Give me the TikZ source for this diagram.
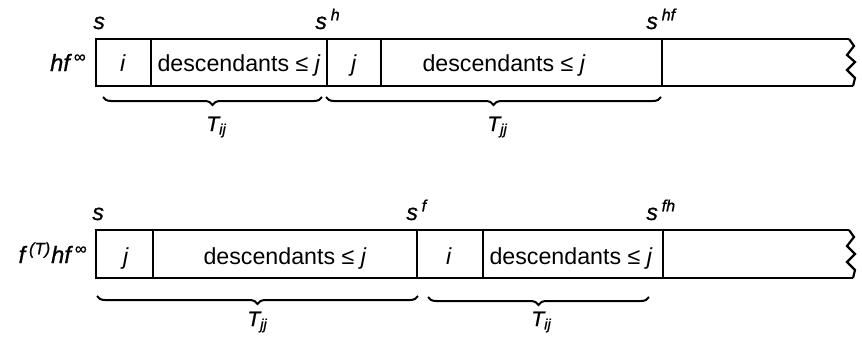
\documentclass[tikz,border=0pt]{standalone}
\usepackage{fontspec}
\setmainfont{Liberation Sans}
\newfontfamily\lblfont{Liberation Sans}[FakeBold=0.9]
\usetikzlibrary{decorations.pathreplacing}
\newcommand\Up[1]{\textsuperscript{#1}}
\begin{document}
\begin{tikzpicture}[x=0.5pt,y=-0.5pt,
  font=\fontsize{11.6}{14}\selectfont,
  lbl/.style={inner sep=0pt},
  slbl/.style={inner sep=0pt, font=\fontsize{11.5}{13}\lblfont\itshape},
  nlbl/.style={inner sep=0pt, font=\fontsize{11.8}{14}\lblfont\itshape},
  tlbl/.style={inner sep=0pt, font=\fontsize{10.5}{12}\lblfont\itshape},
  strip/.style={line width=1.4pt},
  divider/.style={line width=0.55pt},
  brc/.style={decorate, decoration={brace,mirror,amplitude=4pt}, line width=1pt}]
\useasboundingbox (0,0) rectangle (862,343);

% ---------- top strip ----------
\coordinate (tTL) at (96,39);
\coordinate (tBL) at (96,86);
\coordinate (tTR) at (849,39);
\coordinate (tBR) at (853,86);
\draw[strip] (tTR) -- (tTL) -- (tBL) -- (tBR);
\draw[line width=1.1pt] (tTR) -- (854,46) -- (847,55) -- (855,62) -- (847,70) -- (855,78) -- (tBR);
\foreach \x in {151,327,381,662}{\draw[divider] (\x,39) -- (\x,86);}

\node[lbl, anchor=base] (ti)  at (123,71) {\textit{i}};
\node[lbl, anchor=base] (td1) at (239,71) {descendants ≤ \textit{j}};
\node[lbl, anchor=base] (tj)  at (354,71) {\textit{j}};
\node[lbl, anchor=base] (td2) at (504,71) {descendants ≤ \textit{j}};
\node[nlbl, anchor=base east] (tname) at (87,71) {hf\,\Up{∞}};

\node[slbl, anchor=base west] (ts)   at (93,29)  {s};
\node[slbl, anchor=base west] (tsh)  at (315,29) {s\,\Up{h}};
\node[slbl, anchor=base west] (tshf) at (646,29) {s\,\Up{hf}};

\coordinate (b1a) at (103,97);
\coordinate (b1b) at (322,97);
\coordinate (b2a) at (326,97);
\coordinate (b2b) at (661,97);
\draw[brc] (b1a) -- (b1b);
\draw[brc] (b2a) -- (b2b);
\node[tlbl, anchor=base west] (tT1) at (206,131) {T\textsubscript{ij}};
\node[tlbl, anchor=base west] (tT2) at (487,131) {T\textsubscript{jj}};

% ---------- bottom strip ----------
\coordinate (bTL) at (96,230);
\coordinate (bBL) at (96,278);
\coordinate (bTR) at (849,230);
\coordinate (bBR) at (853,278);
\draw[strip] (bTR) -- (bTL) -- (bBL) -- (bBR);
\draw[line width=1.1pt] (bTR) -- (854,237) -- (847,246) -- (855,254) -- (847,262) -- (855,270) -- (bBR);
\foreach \x in {153,417,483,663}{\draw[divider] (\x,230) -- (\x,278);}

\node[lbl, anchor=base] (bj)  at (126,264) {\textit{j}};
\node[lbl, anchor=base] (bd1) at (285,264) {descendants ≤ \textit{j}};
\node[lbl, anchor=base] (bi)  at (449,264) {\textit{i}};
\node[lbl, anchor=base] (bd2) at (571,264) {descendants ≤ \textit{j}};
\node[nlbl, anchor=base east] (bname) at (88,263) {f\,\Up{(T)}hf\,\Up{∞}};

\node[slbl, anchor=base west] (bs)   at (92,220)  {s};
\node[slbl, anchor=base west] (bsf)  at (406,220) {s\,\Up{f}};
\node[slbl, anchor=base west] (bsfh) at (646,220) {s\,\Up{fh}};

\coordinate (c1a) at (97,296);
\coordinate (c1b) at (418,296);
\coordinate (c2a) at (428,297);
\coordinate (c2b) at (649,297);
\draw[brc] (c1a) -- (c1b);
\draw[brc] (c2a) -- (c2b);
\node[tlbl, anchor=base west] (bT1) at (247,326) {T\textsubscript{jj}};
\node[tlbl, anchor=base west] (bT2) at (531,326) {T\textsubscript{ij}};
\end{tikzpicture}
\end{document}
